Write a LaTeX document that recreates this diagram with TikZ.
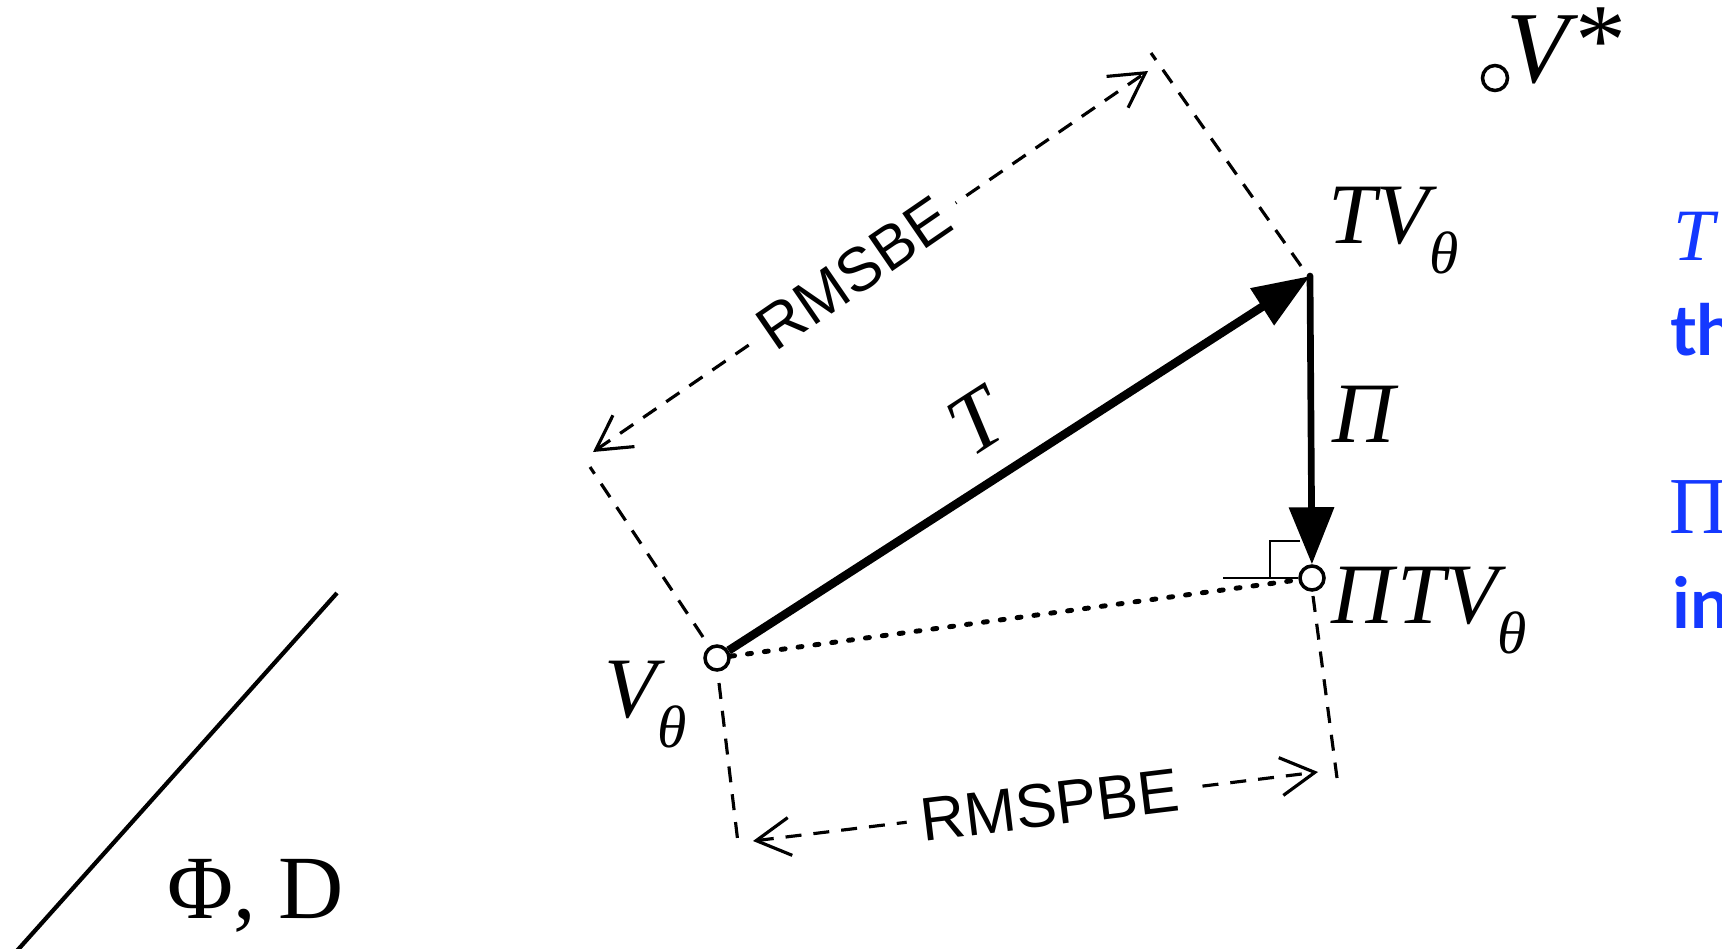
\documentclass[tikz,border=0pt]{standalone}
\usepackage{fontspec}
\setmainfont{Liberation Serif}
\setsansfont{Liberation Sans}
\newfontfamily\notefont{Lato}
\usetikzlibrary{arrows.meta}
\definecolor{noteblue}{HTML}{1438FF}
\newcommand{\subth}{\raisebox{-8.8pt}{\fontsize{17}{17}\selectfont θ}}

\begin{document}
\begin{tikzpicture}[x=0.1mm, y=-0.1mm,
    every node/.style={inner sep=0pt},
    mlabel/.style={font=\fontsize{24.5}{28}\selectfont\itshape},
    vpoint/.style={circle, draw, fill=white, line width=1pt, minimum size=2.4mm},
    guide/.style={line width=0.9pt, dash pattern=on 1.6mm off 1.2mm},
    dimline/.style={guide, {Straight Barb[length=3.4mm,width=3.8mm]}-{Straight Barb[length=3.4mm,width=3.8mm]}},
    dimtext/.style={font=\sffamily\fontsize{17.5}{20}\selectfont, fill=white, inner sep=4pt, sloped},
    notetext/.style={text=noteblue, anchor=base west}]
  \useasboundingbox (0,0) rectangle (1722,949);

  % value points
  \node[vpoint] (vt) at (717,658) {};
  \coordinate (tv) at (1310,276);
  \node[vpoint] (ptv) at (1312,578) {};
  \node[vpoint, minimum size=2.5mm] (vstar) at (1495,78) {};

  % subspace
  \coordinate (phi-top) at (337,593);
  \coordinate (phi-bot) at (15,953);
  \draw[line width=1.2pt] (phi-top) -- (phi-bot);
  \node[font=\fontsize{25.7}{30}\selectfont, anchor=base west] (phid) at (167,918) {Φ, D};

  % error guides
  \coordinate (be-a1) at (703,637);
  \coordinate (be-a2) at (590,467);
  \coordinate (be-b1) at (1301,266);
  \coordinate (be-b2) at (1151,53);
  \coordinate (be-l) at (593,452);
  \coordinate (be-r) at (1148,71);
  \coordinate (pbe-a1) at (719,683);
  \coordinate (pbe-a2) at (738,843);
  \coordinate (pbe-b1) at (1313,596);
  \coordinate (pbe-b2) at (1337,778);
  \coordinate (pbe-l) at (753,841);
  \coordinate (pbe-r) at (1318,772);
  \draw[guide] (be-a1) -- (be-a2);
  \draw[guide] (be-b1) -- (be-b2);
  \draw[guide] (pbe-a1) -- (pbe-a2);
  \draw[guide] (pbe-b1) -- (pbe-b2);
  \draw[dimline] (be-l) -- node[dimtext, pos=0.47] (be-txt) {RMSBE} (be-r);
  \draw[dimline] (pbe-l) -- node[dimtext, pos=0.525] (pbe-txt) {RMSPBE} (pbe-r);

  % operators
  \draw[line width=1.4pt, line cap=round, dash pattern=on 0.4mm off 1.3mm] (vt) -- (ptv);
  \draw[line width=2.4pt, -{Triangle[length=5.7mm,width=4.2mm]}] (vt) -- node[mlabel, sloped, above=2.6mm, pos=0.48] (tlbl) {T} (tv);
  \draw[line width=1.9pt, line cap=round, -{Triangle[length=5.7mm,width=4.4mm]}] (tv) -- node[mlabel, right=1.8mm, pos=0.48] (pilbl) {Π} (ptv);

  % right angle
  \coordinate (ra-left) at (1223,578);
  \coordinate (ra-corner) at (1270,578);
  \coordinate (ra-top) at (1300,541);
  \draw[line width=0.7pt] (ra-left) -- (ptv);
  \draw[line width=0.7pt] (ra-corner) |- (ra-top);

  % labels
  \node[mlabel, anchor=base west] (tvlbl) at (1328,243) {TV\subth};
  \node[mlabel, anchor=base west] (ptvlbl) at (1331,623) {Π\hspace{1pt}TV\subth};
  \node[mlabel, anchor=base west] (vtlbl) at (604,717) {V\subth};
  \node[font=\fontsize{29}{32}\selectfont, anchor=base west] (vstarlbl) at (1506,83) {\textit{V}\hspace{-1pt}\raisebox{2.5pt}{*}};

  % notes (cut at the edge)
  \node[notetext, font=\fontsize{21}{24}\selectfont\itshape] (note1) at (1673,260) {T};
  \node[notetext, font=\notefont\bfseries\fontsize{20}{24}\selectfont] (note2) at (1670,355) {th};
  \node[notetext, font=\fontsize{23}{26}\selectfont] (note3) at (1669,533) {Π};
  \node[notetext, font=\notefont\bfseries\fontsize{20}{24}\selectfont] (note4) at (1672,628) {in};
\end{tikzpicture}
\end{document}
